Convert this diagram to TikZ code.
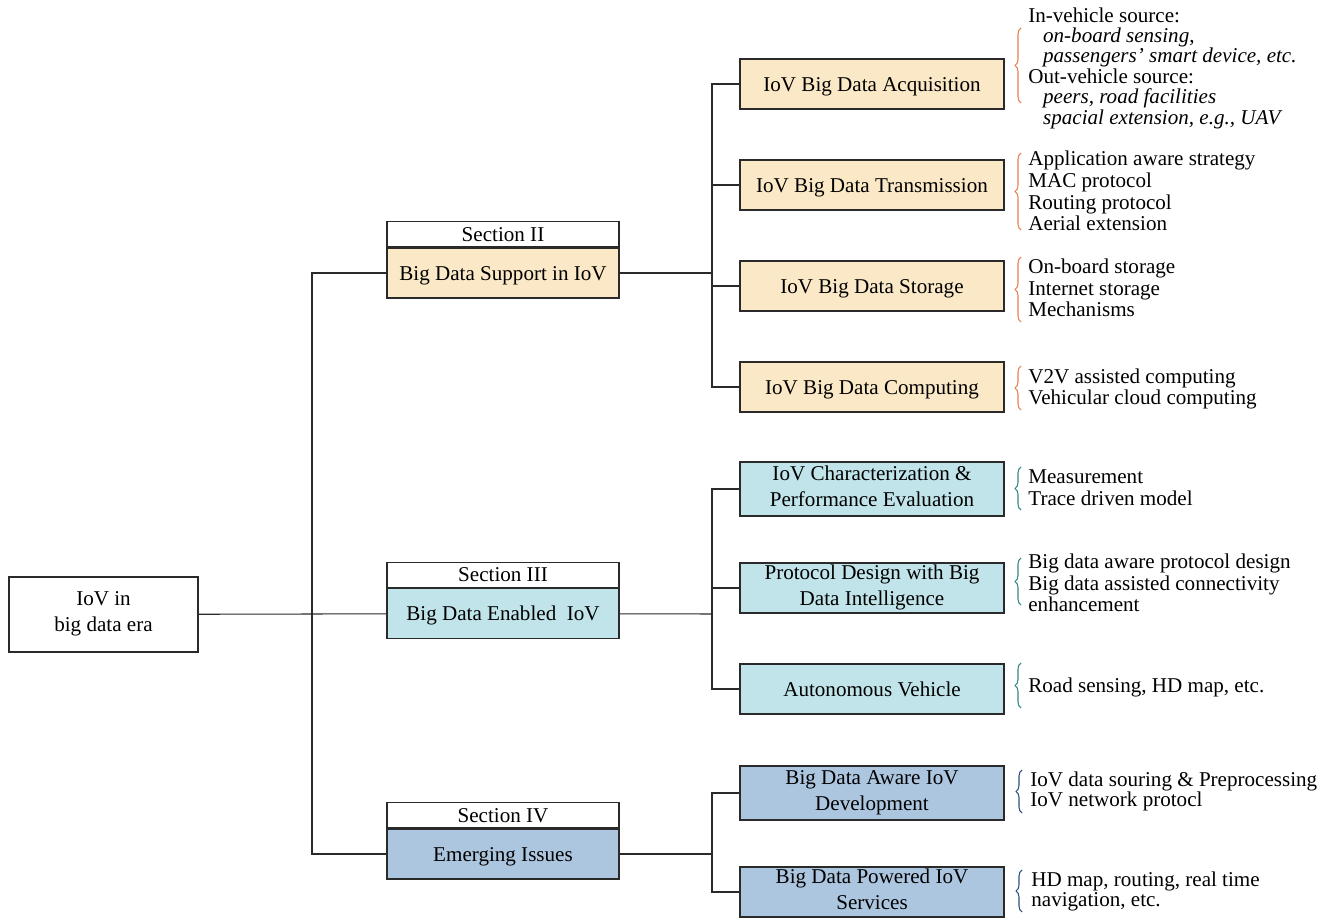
\documentclass[tikz,border=0pt]{standalone}
\usepackage{fontspec}
\setmainfont{Liberation Serif}
\usetikzlibrary{positioning,decorations.pathreplacing}
\definecolor{supyel}{HTML}{FAE8C6}
\definecolor{enacyan}{HTML}{C0E4EA}
\definecolor{emgblue}{HTML}{ADC6E0}
\definecolor{brorange}{HTML}{E8804C}
\definecolor{brteal}{HTML}{2E8884}
\definecolor{brnavy}{HTML}{2C4E7E}
\definecolor{frame}{HTML}{2A2A2A}

\begin{document}
\begin{tikzpicture}[x=0.02cm,y=-0.02cm]
    \tikzset{box/.style = {shape=rectangle, draw=frame, line width=0.7pt, align=center, inner sep=0pt, font=\fontsize{12}{14.7}\selectfont,
        execute at begin node={\rule{0pt}{11pt}}, execute at end node={\rule[-3pt]{0pt}{3pt}}}}
    \tikzset{topic/.style = {box, minimum width=5.28cm, minimum height=1cm}}
    \tikzset{sect/.style = {box, minimum width=4.64cm, minimum height=1cm}}
    \tikzset{secthead/.style = {box, fill=white, minimum width=4.64cm, minimum height=0.5cm}}
    \tikzset{items/.style = {anchor=west, align=left, inner sep=0pt, font=\fontsize{12}{12.3}\selectfont}}
    \tikzset{curly/.style = {decorate, decoration={brace, amplitude=0.12cm}, line width=0.6pt}}
    \tikzset{link/.style = {draw=frame, line width=0.6pt}}

    \useasboundingbox (0,0) rectangle (1333,922);

    % root
    \node[box, minimum width=3.78cm, minimum height=1.5cm] (root) at (103.5,614.5) {IoV in\\big data era};

    % sections
    \node[sect, fill=supyel] (s2) at (503,273) {Big Data Support in IoV};
    \node[secthead, above=0pt of s2] (s2h) {Section II};
    \node[sect, fill=enacyan] (s3) at (503,613.5) {Big Data Enabled\ \ IoV};
    \node[secthead, above=0pt of s3] (s3h) {Section III};
    \node[sect, fill=emgblue] (s4) at (503,854) {Emerging Issues};
    \node[secthead, above=0pt of s4] (s4h) {Section IV};

    % topics
    \node[topic, fill=supyel] (acq) at (872,84) {IoV Big Data Acquisition};
    \node[topic, fill=supyel] (trans) at (872,185) {IoV Big Data Transmission};
    \node[topic, fill=supyel] (stor) at (872,286) {IoV Big Data Storage};
    \node[topic, fill=supyel] (comp) at (872,387) {IoV Big Data Computing};
    \node[topic, fill=enacyan, minimum height=1.08cm] (chara) at (872,489) {IoV Characterization \&\\Performance Evaluation};
    \node[topic, fill=enacyan] (proto) at (872,588) {Protocol Design with Big\\Data Intelligence};
    \node[topic, fill=enacyan] (auto) at (872,689) {Autonomous Vehicle};
    \node[topic, fill=emgblue, minimum height=1.08cm] (aware) at (872,793) {Big Data Aware IoV\\Development};
    \node[topic, fill=emgblue] (power) at (872,892) {Big Data Powered IoV\\Services};

    % junctions
    \coordinate (j1) at (312,614);
    \coordinate (j2) at (712,273);
    \coordinate (j3) at (712,614);
    \coordinate (j4) at (712,854);

    % edges
    \draw[link] (root) -- (j1);
    \draw[link] (j1) |- (s2);
    \draw[link] (j1) -- (s3);
    \draw[link] (j1) |- (s4);
    \draw[link] (s2) -- (j2);
    \draw[link] (j2) |- (acq);
    \draw[link] (j2) |- (trans);
    \draw[link] (j2) |- (stor);
    \draw[link] (j2) |- (comp);
    \draw[link] (s3) -- (j3);
    \draw[link] (j3) |- (chara);
    \draw[link] (j3) |- (proto);
    \draw[link] (j3) |- (auto);
    \draw[link] (s4) -- (j4);
    \draw[link] (j4) |- (aware);
    \draw[link] (j4) |- (power);

    % details
    \node[items, font=\fontsize{12}{11.6}\selectfont] (acqtxt) at (1028,68) {In-vehicle source:\\\hspace*{0.7em}\textit{on-board sensing},\\\hspace*{0.7em}\textit{passengers' smart device, etc.}\\Out-vehicle source:\\\hspace*{0.7em}\textit{peers, road facilities}\\\hspace*{0.7em}\textit{spacial extension, e.g., UAV}};
    \node[items] (transtxt) at (1028,191) {Application aware strategy\\MAC protocol\\Routing protocol\\Aerial extension};
    \node[items] (stortxt) at (1028,288) {On-board storage\\Internet storage\\Mechanisms};
    \node[items] (comptxt) at (1028,389) {V2V assisted computing\\Vehicular cloud computing};
    \node[items] (charatxt) at (1028,488) {Measurement\\Trace driven model};
    \node[items] (prototxt) at (1028,583) {Big data aware protocol design\\Big data assisted connectivity\\enhancement};
    \node[items] (autotxt) at (1028,687) {Road sensing, HD map, etc.};
    \node[items, font=\fontsize{12}{11.4}\selectfont] (awaretxt) at (1030,791) {IoV data souring \& Preprocessing\\IoV network protocl};
    \node[items, font=\fontsize{12}{11.4}\selectfont] (powertxt) at (1031,891) {HD map, routing, real time\\navigation, etc.};

    % braces
    \draw[curly, brorange] (1021,103) -- (1021,28);
    \draw[curly, brorange] (1021,230) -- (1021,153);
    \draw[curly, brorange] (1021,322) -- (1021,257);
    \draw[curly, brorange] (1021,410) -- (1021,366);
    \draw[curly, brteal] (1021,510) -- (1021,467);
    \draw[curly, brteal] (1021,605) -- (1021,558);
    \draw[curly, brteal] (1021,708) -- (1021,663);
    \draw[curly, brnavy] (1022,813) -- (1022,770);
    \draw[curly, brnavy] (1022,912) -- (1022,870);
\end{tikzpicture}
\end{document}
